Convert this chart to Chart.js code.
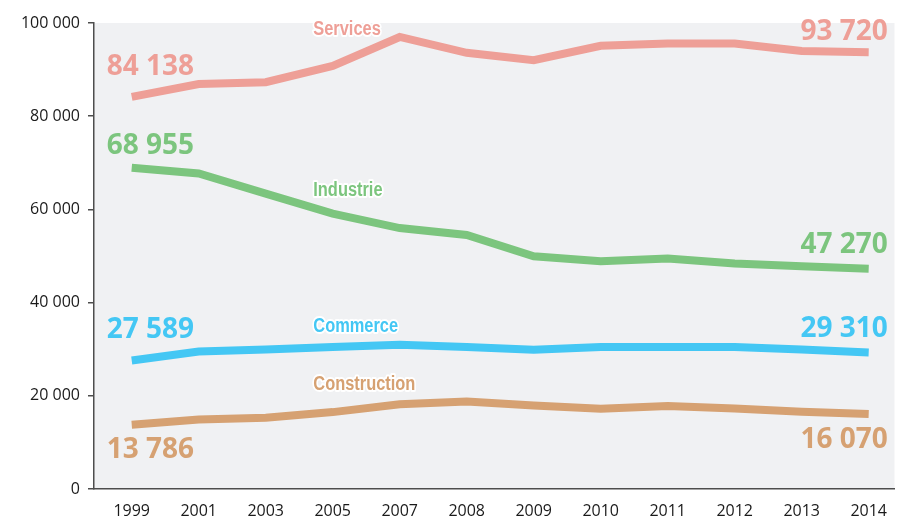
<!DOCTYPE html>
<html>
<head>
<meta charset="utf-8">
<script src="https://cdn.jsdelivr.net/npm/chart.js@4"></script>
<style>
  body { margin: 0; background: #fff; }
  #wrap { width: 900px; height: 526px; }
</style>
</head>
<body>
<div id="wrap"><canvas id="chart"></canvas></div>
<script>
const ctx = document.getElementById("chart");

// Years on the x axis (evenly spaced, one slot per label)
const years = ["1999", "2001", "2003", "2005", "2007", "2008", "2009", "2010", "2011", "2012", "2013", "2014"];

// Series values
const services     = [84138, 86900, 87300, 90800, 97000, 93600, 92000, 95100, 95600, 95600, 94000, 93720];
const industrie    = [68955, 67700, 63400, 59100, 56000, 54500, 49950, 48900, 49450, 48400, 47800, 47270];
const commerce     = [27589, 29500, 29950, 30450, 30950, 30450, 29900, 30450, 30450, 30450, 29950, 29310];
const construction = [13786, 14900, 15300, 16500, 18200, 18800, 17900, 17200, 17800, 17300, 16600, 16070];

const seriesNames  = ["Services", "Industrie", "Commerce", "Construction"];
const seriesColors = ["#ee9f97", "#7cc57e", "#44c7f4", "#d6a172"];
const seriesData   = [services, industrie, commerce, construction];

// y axis ticks
const yTicks = [0, 20000, 40000, 60000, 80000, 100000];

function fmt(v) {
  return String(v).replace(/\B(?=(\d{3})+(?!\d))/g, " ");
}

Chart.defaults.font.family = "'Open Sans', sans-serif";
Chart.defaults.color = "#1a1a1a";

// label placement (pixel offsets from first / last point, and name anchors in data space)
const startOffsets = [-22, -14, -22, 33];
const endOffsets = [-12, -16, -15, 34];
const nameAnchors = [
  { x: 2.71, y: 97500 },
  { x: 2.71, y: 62900 },
  { x: 2.71, y: 33700 },
  { x: 2.71, y: 21300 },
];

const datasets = seriesNames.map((name, i) => ({
  label: name,
  data: seriesData[i].map((v, j) => ({ x: j, y: v })),
  borderColor: seriesColors[i],
  backgroundColor: seriesColors[i],
  borderWidth: 8,
  pointRadius: 0,
  tension: 0,
  borderCapStyle: "butt",
}));

const config = {
  type: "line",
  data: { datasets: datasets },
  plugins: [
    {
      id: "plotBackground",
      beforeDraw(chart) {
        const { ctx, chartArea: a } = chart;
        ctx.save();
        ctx.fillStyle = "#f0f1f3";
        ctx.fillRect(a.left, a.top, a.right - a.left, a.bottom - a.top);
        ctx.restore();
      },
    },
    {
      id: "seriesLabels",
      afterDatasetsDraw(chart) {
        const { ctx, scales } = chart;
        ctx.save();
        seriesData.forEach((vals, i) => {
          const first = vals[0];
          const last = vals[vals.length - 1];
          ctx.font = "bold 28px 'Open Sans', sans-serif";
          ctx.fillStyle = seriesColors[i];
          ctx.textBaseline = "alphabetic";

          ctx.textAlign = "left";
          ctx.fillText(fmt(first), scales.x.getPixelForValue(0) - 25, scales.y.getPixelForValue(first) + startOffsets[i]);

          ctx.textAlign = "right";
          ctx.fillText(fmt(last), scales.x.getPixelForValue(vals.length - 1) + 19, scales.y.getPixelForValue(last) + endOffsets[i]);

          // series name, condensed, with a white halo
          const px = scales.x.getPixelForValue(nameAnchors[i].x);
          const py = scales.y.getPixelForValue(nameAnchors[i].y);
          ctx.save();
          ctx.translate(px, py);
          ctx.scale(0.82, 1);
          ctx.font = "bold 20px 'Liberation Sans', Arial, sans-serif";
          ctx.textAlign = "left";
          ctx.lineJoin = "round";
          ctx.lineWidth = 4;
          ctx.strokeStyle = "#ffffff";
          ctx.strokeText(seriesNames[i], 0, 0);
          ctx.fillText(seriesNames[i], 0, 0);
          ctx.restore();
        });
        ctx.restore();
      },
    },
  ],
  options: {
    responsive: true,
    maintainAspectRatio: false,
    animation: false,
    layout: { padding: { top: 23, right: 0, left: 0, bottom: 0 } },
    plugins: {
      legend: { display: false },
      tooltip: { enabled: false },
    },
    scales: {
      x: {
        type: "linear",
        min: -0.563,
        max: 11.385,
        afterBuildTicks(scale) {
          scale.ticks = years.map((_, i) => ({ value: i }));
        },
        afterFit(scale) {
          scale.height = 37;
        },
        grid: { display: false, drawTicks: false },
        border: { display: true, color: "#4d4d4d", width: 1.5 },
        ticks: {
          autoSkip: false,
          maxRotation: 0,
          padding: 13,
          font: { size: 16 },
          callback: (v) => years[v] ?? "",
        },
      },
      y: {
        min: 0,
        max: 100000,
        afterBuildTicks(scale) {
          scale.ticks = yTicks.map((v) => ({ value: v }));
        },
        afterFit(scale) {
          scale.width = 94;
        },
        grid: { drawOnChartArea: false, color: "#4d4d4d", tickLength: 6, lineWidth: 1.5 },
        border: { display: true, color: "#4d4d4d", width: 1.5 },
        ticks: {
          padding: 8,
          font: { size: 16 },
          callback: (v) => fmt(v),
        },
      },
    },
  },
};

new Chart(ctx, config);
</script>
</body>
</html>
